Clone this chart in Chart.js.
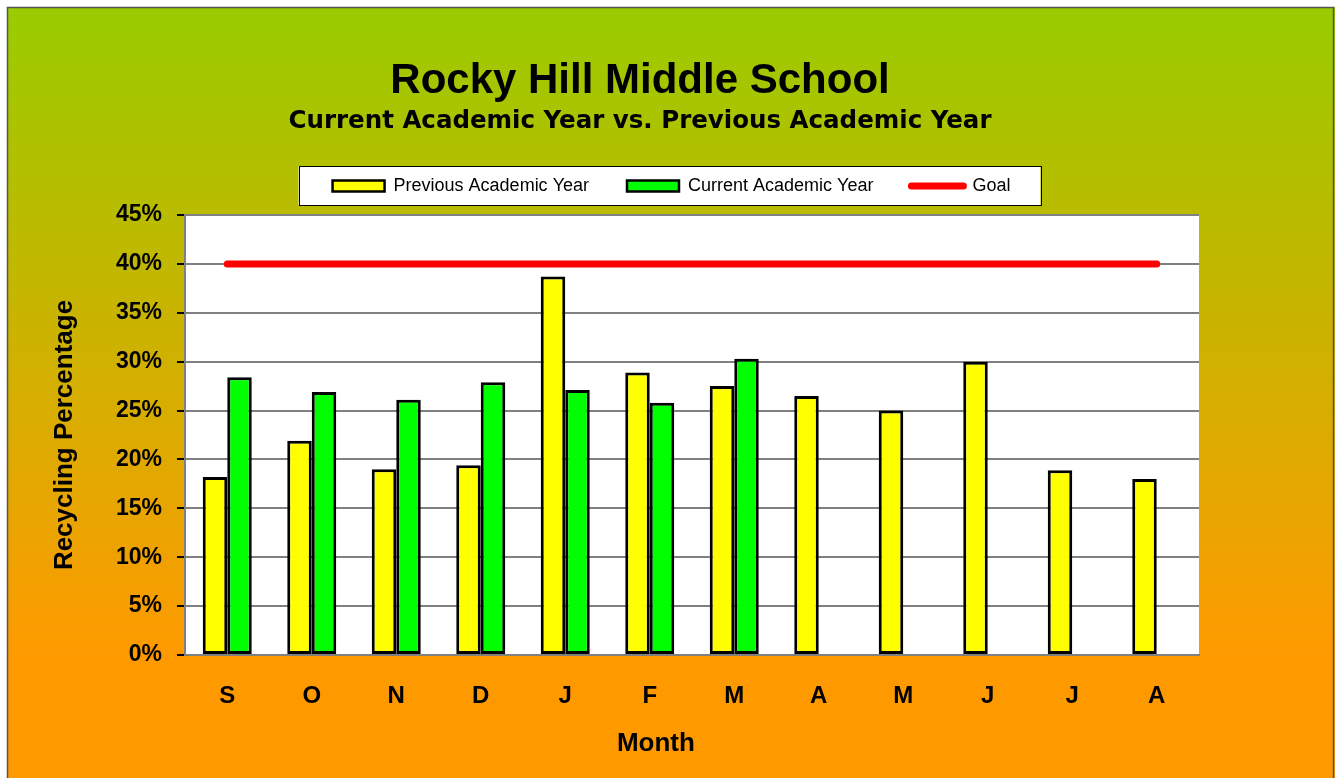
<!DOCTYPE html>
<html>
<head>
<meta charset="utf-8">
<title>Rocky Hill Middle School</title>
<script src="https://cdn.jsdelivr.net/npm/chart.js@4/dist/chart.umd.min.js"></script>
<style>
    body { margin: 0; background: #fff; }
    canvas { display: block; }
</style>
</head>
<body>
<canvas id="recyclingChart" width="1335" height="778"></canvas>
<script>
// Chart data
const months = ['S', 'O', 'N', 'D', 'J', 'F', 'M', 'A', 'M', 'J', 'J', 'A'];
const previousYear = [18.2, 21.9, 19.0, 19.4, 38.7, 28.9, 27.5, 26.5, 25.0, 30.0, 18.9, 18.0];
const currentYear = [28.4, 26.9, 26.1, 27.9, 27.1, 25.8, 30.3, null, null, null, null, null];
const goal = [40, 40, 40, 40, 40, 40, 40, 40, 40, 40, 40, 40];
const yTicks = [0, 5, 10, 15, 20, 25, 30, 35, 40, 45];

const titleText = 'Rocky Hill Middle School';
const subtitleText = 'Current Academic Year vs. Previous Academic Year';

document.addEventListener('DOMContentLoaded', function() {
    const ctx = document.getElementById('recyclingChart');

    // Gradient frame, plot background, titles and legend box
    const backdrop = {
        id: 'backdrop',
        beforeDraw(chart) {
            const c = chart.ctx;
            const area = chart.chartArea;
            c.save();
            const grad = c.createLinearGradient(0, 7, 0, 778);
            grad.addColorStop(0, '#99cc00');
            grad.addColorStop(0.85, '#ff9900');
            grad.addColorStop(1, '#ff9900');
            c.fillStyle = grad;
            c.fillRect(7, 7, chart.width - 7, chart.height);
            c.strokeStyle = '#555';
            c.lineWidth = 1.5;
            c.strokeRect(7.5, 7.5, chart.width - 9, chart.height + 20);

            c.fillStyle = '#fff';
            c.fillRect(area.left, area.top, area.right - area.left, area.bottom - area.top);

            c.fillStyle = '#000';
            c.textAlign = 'center';
            c.textBaseline = 'alphabetic';
            c.font = 'bold 42px "Liberation Sans", Arial, sans-serif';
            c.fillText(titleText, 640, 93);
            c.font = 'bold 24.5px "DejaVu Sans", Verdana, sans-serif';
            c.fillText(subtitleText, 640, 128);

            // white box behind the legend items
            const boxes = chart.legend.legendHitBoxes;
            if (boxes && boxes.length) {
                const l = Math.min(...boxes.map(b => b.left)) - 34;
                const r = Math.max(...boxes.map(b => b.left + b.width)) + 30;
                const mid = boxes[0].top + boxes[0].height / 2;
                c.fillStyle = '#fff';
                c.fillRect(l, mid - 20, r - l, 39);
                c.strokeStyle = '#000';
                c.lineWidth = 1;
                c.strokeRect(Math.round(l) + 0.5, Math.round(mid - 20) + 0.5, Math.round(r - l), 39);
            }
            c.restore();
        }
    };

    new Chart(ctx, {
        type: 'bar',
        data: {
            labels: months,
            datasets: [{
                label: 'Previous Academic Year',
                data: previousYear,
                backgroundColor: '#ffff00',
                borderColor: '#000',
                borderWidth: 3,
                borderSkipped: false,
                order: 1
            }, {
                label: 'Current Academic Year',
                data: currentYear,
                backgroundColor: '#00ff00',
                borderColor: '#000',
                borderWidth: 3,
                borderSkipped: false,
                order: 1
            }, {
                type: 'line',
                label: 'Goal',
                data: goal,
                borderColor: '#ff0000',
                backgroundColor: '#ff0000',
                borderWidth: 7,
                borderCapStyle: 'round',
                pointRadius: 0,
                order: 0
            }]
        },
        options: {
            responsive: false,
            animation: false,
            events: [],
            layout: { padding: { left: 8, top: 139, right: 0, bottom: 0 } },
            datasets: {
                bar: { categoryPercentage: 0.58, barPercentage: 1.0 }
            },
            plugins: {
                tooltip: { enabled: false },
                legend: {
                    position: 'top',
                    labels: {
                        usePointStyle: true,
                        pointStyleWidth: 52,
                        boxHeight: 11,
                        padding: 38,
                        color: '#000',
                        font: { family: '"Liberation Sans Narrow", "Arial Narrow", "Liberation Sans", sans-serif', size: 18 },
                        generateLabels: function(chart) {
                            return chart.data.datasets.map((ds, i) => ({
                                text: ds.label,
                                datasetIndex: i,
                                fillStyle: ds.backgroundColor,
                                strokeStyle: ds.type === 'line' ? ds.borderColor : '#000',
                                lineWidth: ds.type === 'line' ? 7 : 2.5,
                                lineCap: 'round',
                                pointStyle: ds.type === 'line' ? 'line' : 'rect',
                                fontColor: '#000',
                                hidden: false
                            }));
                        }
                    }
                }
            },
            scales: {
                x: {
                    grid: { display: false, drawTicks: false },
                    border: { display: true, color: '#808080', width: 2 },
                    ticks: {
                        color: '#000',
                        padding: 27,
                        font: { family: '"Liberation Sans", Arial, sans-serif', size: 24, weight: 'bold' }
                    },
                    title: {
                        display: true,
                        // trailing spaces pull the centred title left, as in the original
                        text: 'Month          ',
                        color: '#000',
                        padding: { top: 0, bottom: 19 },
                        font: { family: '"Liberation Sans", Arial, sans-serif', size: 26, weight: 'bold' }
                    },
                    afterFit: function(scale) { scale.height = 123; }
                },
                y: {
                    min: 0,
                    max: 45,
                    afterBuildTicks: function(scale) {
                        scale.ticks = yTicks.map(v => ({ value: v }));
                    },
                    grid: { color: '#808080', lineWidth: 2, tickColor: '#000', tickLength: 8 },
                    border: { color: '#808080', width: 2 },
                    ticks: {
                        color: '#000',
                        padding: 15,
                        font: { family: '"Liberation Sans", Arial, sans-serif', size: 23, weight: 'bold' },
                        callback: function(value) { return value + '%'; }
                    },
                    title: {
                        display: true,
                        text: 'Recycling Percentage',
                        color: '#000',
                        padding: { top: 41, bottom: 0 },
                        font: { family: '"Liberation Sans", Arial, sans-serif', size: 26, weight: 'bold' }
                    },
                    afterFit: function(scale) { scale.width = 177; }
                },
                // spacer scales that only reserve room around the plot
                xTop: {
                    type: 'category',
                    position: 'top',
                    grid: { display: false, drawTicks: false },
                    border: { display: false },
                    ticks: { display: false },
                    afterFit: function(scale) { scale.height = 10; }
                },
                yRight: {
                    type: 'linear',
                    position: 'right',
                    grid: { display: false, drawTicks: false },
                    border: { display: false },
                    ticks: { display: false },
                    afterFit: function(scale) { scale.width = 136; }
                }
            }
        },
        plugins: [backdrop]
    });
});
</script>
</body>
</html>
